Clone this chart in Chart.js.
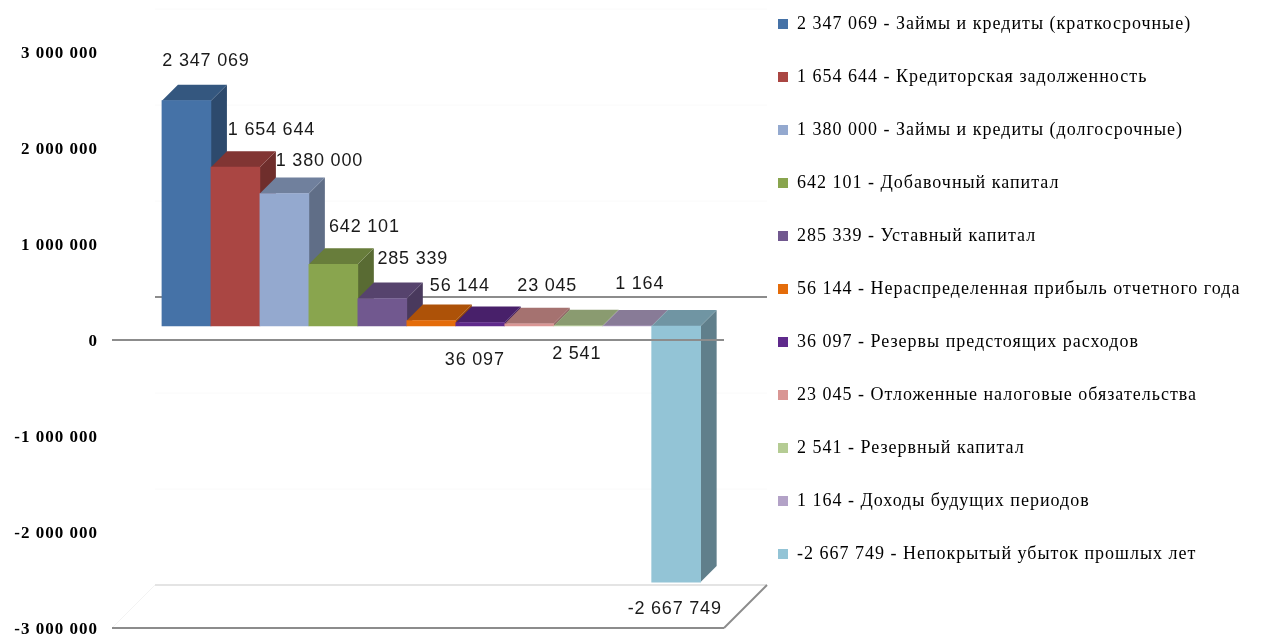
<!DOCTYPE html>
<html>
<head>
<meta charset="utf-8">
<title>Chart</title>
<style>
  body { margin: 0; background: #fff; }
  #wrap { width: 1271px; height: 635px; }
</style>
<script src="https://cdn.jsdelivr.net/npm/chart.js@4"></script>
</head>
<body>
<div id="wrap"><canvas id="myChart" width="1271" height="635"></canvas></div>
<script>
// Data
const item_names = [
  'Займы и кредиты (краткосрочные)',
  'Кредиторская задолженность',
  'Займы и кредиты (долгосрочные)',
  'Добавочный капитал',
  'Уставный капитал',
  'Нераспределенная прибыль отчетного года',
  'Резервы предстоящих расходов',
  'Отложенные налоговые обязательства',
  'Резервный капитал',
  'Доходы будущих периодов',
  'Непокрытый убыток прошлых лет'
];
const item_values = [2347069, 1654644, 1380000, 642101, 285339, 56144, 36097, 23045, 2541, 1164, -2667749];
const tick_values = [-3000000, -2000000, -1000000, 0, 1000000, 2000000, 3000000];
const bar_colors = ['#4572a7', '#aa4643', '#94a9cf', '#89a54e', '#71588f', '#e46c0a', '#5f2a8c', '#d99694', '#b5cc94', '#b3a2c7', '#93c4d6'];

// Where each value label sits relative to the end of its bar
const label_dx = [19.5, 36, 35, 31, 30.5, 28.5, -5.5, 18, -1.5, 12.5, -1.5];
const label_dy = [-40, -37, -32, -37, -40, -35, 37, -38, 28, -42, 27];

const DEPTH = 16;       // depth of the bars
const FLOOR_DX = 43;    // depth of the walls
const FLOOR_DY = -43;
const WALL_LEFT = 112;
const WALL_RIGHT = 724;
const LINE_SHIFT = -2;  // tick text sits a bit high, so the axis is 2px lower than its lines

function fmt(n) {
  return String(n).replace(/\B(?=(\d{3})+(?!\d))/g, ' ');
}

function shade(hex, k) {
  const n = parseInt(hex.slice(1), 16);
  const r = Math.round((n >> 16 & 255) * k);
  const g = Math.round((n >> 8 & 255) * k);
  const b = Math.round((n & 255) * k);
  return 'rgb(' + r + ',' + g + ',' + b + ')';
}

function poly(ctx, pts, color) {
  ctx.fillStyle = color;
  ctx.beginPath();
  ctx.moveTo(pts[0][0], pts[0][1]);
  for (let i = 1; i < pts.length; i++) ctx.lineTo(pts[i][0], pts[i][1]);
  ctx.closePath();
  ctx.fill();
}

function line(ctx, x1, y1, x2, y2, color, w) {
  ctx.strokeStyle = color;
  ctx.lineWidth = w;
  ctx.beginPath();
  ctx.moveTo(x1, y1);
  ctx.lineTo(x2, y2);
  ctx.stroke();
}

// Excel style 3D: walls and the side/top faces of the bars go behind the dataset,
// the front floor line and the value labels go on top of it
const box3d = {
  id: 'box3d',
  beforeDraw(chart) {
    chart.ctx.letterSpacing = '1px';
  },
  afterLayout(chart) {
    chart.legend.left = 743;
    chart.legend.top = -20;
  },
  beforeDatasetsDraw(chart) {
    const ctx = chart.ctx;
    const y = chart.scales.y;
    const bars = chart.getDatasetMeta(0).data;
    ctx.save();
    // faint gridlines on the back wall
    [3000000, 2000000, 1000000, -1000000, -2000000].forEach(function (v) {
      const py = y.getPixelForValue(v) + LINE_SHIFT + FLOOR_DY;
      line(ctx, WALL_LEFT + FLOOR_DX, py, WALL_RIGHT + FLOOR_DX, py, '#fafafa', 1);
    });
    const zero = y.getPixelForValue(0) + LINE_SHIFT;
    const low = y.getPixelForValue(-3000000) + LINE_SHIFT;
    line(ctx, WALL_LEFT, low, WALL_LEFT + FLOOR_DX, low + FLOOR_DY, '#f3f3f3', 1);
    line(ctx, WALL_LEFT + FLOOR_DX, low + FLOOR_DY, WALL_RIGHT + FLOOR_DX, low + FLOOR_DY, '#e4e4e4', 2);
    line(ctx, WALL_LEFT + FLOOR_DX, zero + FLOOR_DY, WALL_RIGHT + FLOOR_DX, zero + FLOOR_DY, '#8c8c8c', 2);

    // sides first, tops over them
    bars.forEach(function (el, i) {
      const p = el.getProps(['x', 'y', 'base', 'width'], true);
      const right = p.x + p.width / 2;
      const top = Math.min(p.y, p.base);
      const bottom = Math.max(p.y, p.base);
      poly(ctx, [[right, top], [right + DEPTH, top - DEPTH], [right + DEPTH, bottom - DEPTH], [right, bottom]], shade(bar_colors[i], 0.65));
    });
    bars.forEach(function (el, i) {
      const p = el.getProps(['x', 'y', 'base', 'width'], true);
      const left = p.x - p.width / 2;
      const right = p.x + p.width / 2;
      const top = Math.min(p.y, p.base);
      poly(ctx, [[left, top], [left + DEPTH, top - DEPTH], [right + DEPTH, top - DEPTH], [right, top]], shade(bar_colors[i], 0.76));
    });
    ctx.restore();
  },
  afterDatasetsDraw(chart) {
    const ctx = chart.ctx;
    const y = chart.scales.y;
    const zero = y.getPixelForValue(0) + LINE_SHIFT;
    const low = y.getPixelForValue(-3000000) + LINE_SHIFT;
    ctx.save();
    line(ctx, WALL_LEFT, zero, WALL_RIGHT, zero, '#8c8c8c', 2);
    line(ctx, WALL_LEFT, low, WALL_RIGHT, low, '#8c8c8c', 2);
    line(ctx, WALL_RIGHT, low, WALL_RIGHT + FLOOR_DX, low + FLOOR_DY, '#8c8c8c', 2);

    ctx.font = '18px "Liberation Sans"';
    ctx.letterSpacing = '0.8px';
    ctx.fillStyle = '#1a1a1a';
    ctx.textAlign = 'center';
    ctx.textBaseline = 'middle';
    chart.getDatasetMeta(0).data.forEach(function (el, i) {
      const p = el.getProps(['x', 'y'], true);
      ctx.fillText(fmt(item_values[i]), p.x + label_dx[i], p.y + label_dy[i]);
    });
    ctx.restore();
  }
};

new Chart(document.getElementById('myChart'), {
  type: 'bar',
  data: {
    datasets: [{
      data: item_values.map(function (v, i) { return { x: i, y: v }; }),
      backgroundColor: bar_colors,
      borderWidth: 0,
      barPercentage: 1,
      categoryPercentage: 1,
      yAxisID: 'y2'
    }]
  },
  options: {
    responsive: false,
    animation: false,
    layout: { padding: 0, autoPadding: false },
    scales: {
      x: { type: 'linear', display: false, offset: false, min: -1.52, max: 12.766 },
      y: {
        min: -3052083,
        max: 3562500,
        afterFit(scale) {
          scale.width = WALL_LEFT;
          scale.paddingTop = 0;
          scale.paddingBottom = 0;
        },
        afterBuildTicks(scale) { scale.ticks = tick_values.map(function (v) { return { value: v }; }); },
        border: { display: false },
        grid: { display: false, drawTicks: false },
        ticks: {
          autoSkip: false,
          padding: 14,
          color: '#000',
          font: { family: '"Liberation Serif"', size: 17, weight: 'bold' },
          callback: function (v) { return fmt(v); }
        }
      },
      // same scale as y, the bars stand above the axis zero
      y2: { display: false, min: -3218750, max: 3395833 }
    },
    plugins: {
      tooltip: { enabled: false },
      legend: {
        position: 'right',
        align: 'start',
        maxWidth: 480,
        labels: {
          boxWidth: 10,
          boxHeight: 10,
          padding: 35,
          color: '#1a1a1a',
          font: { family: '"Liberation Serif"', size: 18 },
          generateLabels: function () {
            return item_names.map(function (name, i) {
              return {
                text: fmt(item_values[i]) + ' - ' + name,
                fillStyle: bar_colors[i],
                strokeStyle: bar_colors[i],
                lineWidth: 0,
                index: i
              };
            });
          }
        }
      }
    }
  },
  plugins: [box3d]
});
</script>
</body>
</html>
